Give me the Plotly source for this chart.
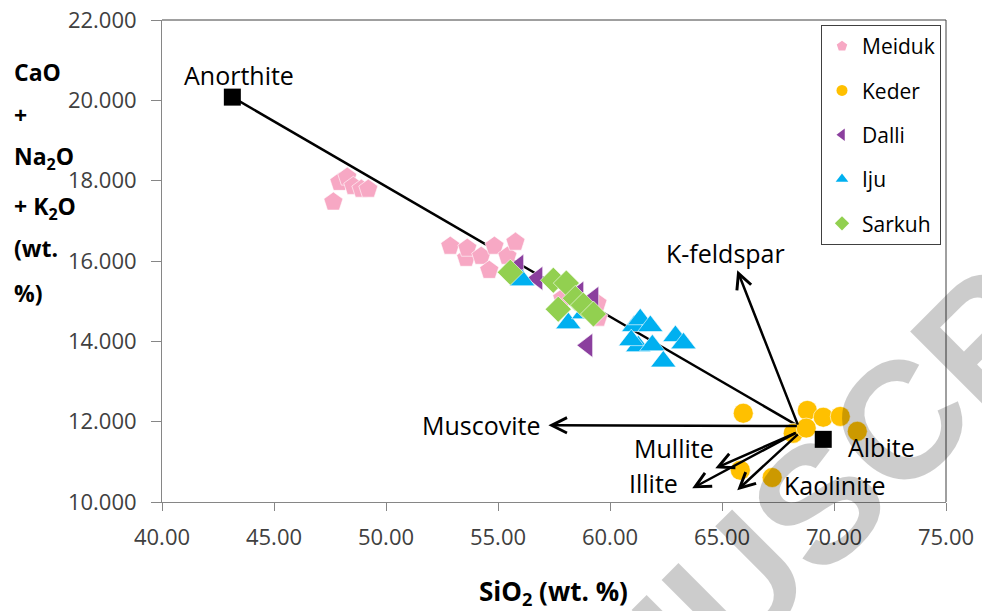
import plotly.graph_objects as go

# ---------------- data ----------------
meiduk_x = [47.65, 47.92, 48.27, 48.54, 48.90, 49.21, 52.87, 53.58, 53.63, 54.25, 54.61, 54.84, 55.42, 55.78, 57.87, 59.44, 59.48]
meiduk_y = [17.47, 17.96, 18.09, 17.86, 17.79, 17.79, 16.37, 16.07, 16.32, 16.12, 15.77, 16.37, 16.12, 16.47, 15.07, 14.95, 14.58]

keder_x = [65.95, 68.81, 69.52, 70.28, 71.04, 68.18, 68.76, 65.82, 67.24]
keder_y = [12.21, 12.28, 12.11, 12.13, 11.76, 11.71, 11.84, 10.79, 10.61]

dalli_x = [55.91, 56.76, 58.59, 59.26, 58.99]
dalli_y = [15.87, 15.57, 15.20, 15.07, 13.90]

iju_x = [56.08, 58.14, 58.85, 61.08, 61.35, 61.80, 61.26, 61.89, 62.38, 62.92, 63.28, 60.95]
iju_y = [15.52, 14.45, 14.70, 14.38, 14.55, 14.38, 13.88, 13.90, 13.50, 14.13, 13.95, 14.03]

sarkuh_x = [55.55, 57.47, 58.05, 58.45, 57.69, 58.81, 59.26]
sarkuh_y = [15.72, 15.52, 15.45, 15.07, 14.80, 14.90, 14.68]

endmember_names = ["Anorthite", "Albite"]
endmember_x = [43.14, 69.52]
endmember_y = [20.08, 11.56]

trend_x = [43.14, 68.41]
trend_y = [20.08, 11.89]

arrow_names = ["Muscovite", "K-feldspar", "Mullite", "Illite", "Kaolinite"]
arrow_start_x = [68.41, 68.41, 68.36, 68.36, 68.45]
arrow_start_y = [11.89, 11.89, 11.74, 11.74, 11.72]
arrow_end_x = [57.25, 65.68, 64.70, 63.67, 65.68]
arrow_end_y = [11.91, 15.77, 10.84, 10.34, 10.29]

label_names = ["Anorthite", "K-feldspar", "Muscovite", "Mullite", "Illite", "Kaolinite", "Albite"]
label_x = [43.45, 65.15, 54.28, 62.85, 61.93, 70.00, 72.13]
label_y = [20.63, 16.20, 11.91, 11.34, 10.47, 10.42, 11.36]

series_names = ["Meiduk", "Keder", "Dalli", "Iju", "Sarkuh"]
series_colors = ["#F7A8C4", "#FFC000", "#8B3F9E", "#00B0F0", "#92D050"]
series_symbols = ["pentagon", "circle", "triangle-left", "triangle-up", "diamond"]
series_sizes = [20, 20, 21, 22, 20]

x_ticks = [40, 45, 50, 55, 60, 65, 70, 75]
y_ticks = [10, 12, 14, 16, 18, 20, 22]

y_title_lines = ["CaO", "+", "Na<sub>2</sub>O", "+ K<sub>2</sub>O", "(wt.", "%)"]

watermark_text = "MANUSCRIPT"

FONT = "Open Sans"

fig = go.Figure()

# trend line Anorthite -> Albite region
fig.add_trace(go.Scatter(x=trend_x, y=trend_y, mode="lines",
                         line=dict(color="black", width=2.5),
                         showlegend=False, hoverinfo="skip"))

series_data = [(meiduk_x, meiduk_y), (keder_x, keder_y), (dalli_x, dalli_y),
               (iju_x, iju_y), (sarkuh_x, sarkuh_y)]
for i, (xs, ys) in enumerate(series_data):
    fig.add_trace(go.Scatter(
        x=xs, y=ys, mode="markers", name=series_names[i], showlegend=False,
        marker=dict(symbol=series_symbols[i], size=series_sizes[i],
                    color=series_colors[i], line=dict(color="white", width=0.6))))

# end-members
fig.add_trace(go.Scatter(x=endmember_x, y=endmember_y, mode="markers",
                         marker=dict(symbol="square", size=17, color="black"),
                         showlegend=False, text=endmember_names))

# legend-only traces (smaller markers)
for i in range(len(series_names)):
    fig.add_trace(go.Scatter(
        x=[None], y=[None], mode="markers", name=series_names[i],
        legendgroup=series_names[i],
        marker=dict(symbol=series_symbols[i], size=11, color=series_colors[i])))

PL, PR, PT, PB = 162, 946, 20, 502

annotations = []

# faint diagonal watermark (drawn first, darkening only slightly)
annotations.append(dict(
    x=(818 - PL) / (PR - PL), y=(PB - 503) / (PB - PT), xref="paper", yref="paper",
    text="<b>" + watermark_text + "</b>", showarrow=False, textangle=-45,
    xanchor="center", yanchor="middle",
    font=dict(family="Liberation Sans", size=166, color="rgba(0,0,0,0.2)")))

for i in range(len(arrow_names)):
    annotations.append(dict(
        x=arrow_end_x[i], y=arrow_end_y[i], ax=arrow_start_x[i], ay=arrow_start_y[i],
        xref="x", yref="y", axref="x", ayref="y", text="", showarrow=True,
        arrowhead=5, arrowsize=1.2, arrowwidth=2.5, arrowcolor="black"))

for i in range(len(label_names)):
    annotations.append(dict(
        x=label_x[i], y=label_y[i], xref="x", yref="y", text=label_names[i],
        showarrow=False, font=dict(family=FONT, size=25, color="black"),
        xanchor="center", yanchor="middle"))

# y-axis title lines (px centres)
y_line_centres = [72, 115, 157, 208, 248, 293]
for txt, cy in zip(y_title_lines, y_line_centres):
    annotations.append(dict(
        x=(12 - PL) / (PR - PL), y=(PB - cy) / (PB - PT), xref="paper", yref="paper",
        text="<b>" + txt + "</b>", showarrow=False, xanchor="left", yanchor="middle",
        font=dict(family=FONT, size=23, color="black")))

annotations.append(dict(
    x=(553 - PL) / (PR - PL), y=(PB - 592) / (PB - PT), xref="paper", yref="paper",
    text="<b>SiO<sub>2</sub> (wt. %)</b>", showarrow=False, xanchor="center", yanchor="middle",
    font=dict(family=FONT, size=26, color="black")))

shapes = [
    dict(type="line", xref="paper", yref="paper", x0=0, x1=1, y0=1, y1=1,
         line=dict(color="#404040", width=1)),
    dict(type="line", xref="paper", yref="paper", x0=1, x1=1, y0=0, y1=1,
         line=dict(color="#404040", width=1)),
]

fig.update_layout(
    width=982, height=611,
    margin=dict(l=PL, r=982 - PR, t=PT, b=611 - PB, autoexpand=False),
    paper_bgcolor="white", plot_bgcolor="white",
    font=dict(family=FONT, size=22, color="#404040"),
    xaxis=dict(range=[40, 75], tickvals=x_ticks, tickformat=".2f", automargin=False,
               showline=True, linecolor="#868686", linewidth=1,
               ticks="outside", ticklen=8, tickcolor="#868686",
               showgrid=False, zeroline=False, ticklabelstandoff=8),
    yaxis=dict(range=[10, 22], tickvals=y_ticks, tickformat=".3f", automargin=False,
               showline=True, linecolor="#868686", linewidth=1,
               ticks="outside", ticklen=10, tickcolor="#868686",
               showgrid=False, zeroline=False, ticklabelstandoff=10),
    legend=dict(x=(821 - PL) / (PR - PL), y=(PB - 25) / (PB - PT),
                xanchor="left", yanchor="top", bgcolor="white",
                bordercolor="#404040", borderwidth=1, tracegroupgap=14,
                font=dict(family=FONT, size=21, color="black")),
    annotations=annotations, shapes=shapes,
)

fig.write_html("out.html")
